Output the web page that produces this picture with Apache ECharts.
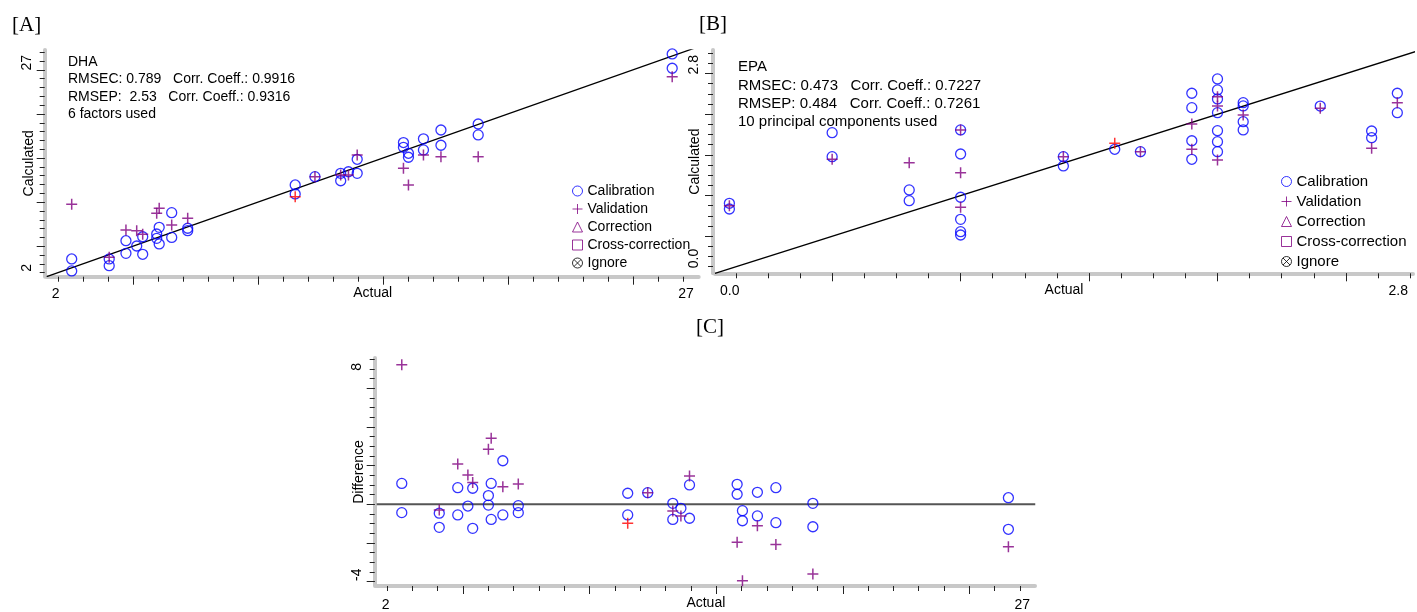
<!DOCTYPE html>
<html>
<head>
<meta charset="utf-8">
<script src="https://cdn.jsdelivr.net/npm/echarts@6/dist/echarts.min.js"></script>
<style>
html,body{margin:0;padding:0;background:#fff;}
#chart{width:1417px;height:612px;}
</style>
</head>
<body>
<div id="chart"></div>
<script>
// ---------- Panel A (DHA) ----------
const calibrationA = [[2.55,3.56],[2.55,2.2],[4.05,3.56],[4.05,2.8],[4.72,5.63],[4.72,4.2],[5.15,5.03],[5.39,6.08],[5.39,4.09],[5.95,6.39],[5.95,5.9],[6.05,7.15],[6.05,5.26],[6.55,8.81],[6.55,6.0],[7.19,7.04],[7.19,6.77],[11.49,11.95],[11.49,10.93],[12.28,12.89],[13.31,13.27],[13.31,12.43],[13.62,13.45],[13.97,14.86],[13.97,13.27],[15.82,16.76],[15.82,16.22],[16.02,15.54],[16.02,15.09],[16.62,17.18],[16.62,15.92],[17.32,18.18],[17.32,16.45],[18.81,18.86],[18.81,17.62],[26.57,26.8],[26.57,25.18]];
const validationA = [[2.55,9.76],[4.05,3.75],[4.72,6.84],[5.15,6.77],[5.39,6.36],[5.95,8.74],[6.05,9.3],[6.55,7.41],[7.19,8.17],[12.28,12.89],[13.31,13.08],[13.62,13.08],[13.97,15.35],[15.82,13.84],[16.02,11.95],[16.62,15.35],[17.32,15.16],[18.81,15.16],[26.57,24.23]];
const validationRedA = [[11.49,10.62]];
const identityA = [[1.55,1.55],[27.7,27.7]];
const textA = ['DHA','RMSEC: 0.789   Corr. Coeff.: 0.9916','RMSEP:  2.53   Corr. Coeff.: 0.9316','6 factors used'];
const xTickLabelsA = ['2','27'];
const yTickLabelsA = ['2','27'];

// ---------- Panel B (EPA) ----------
const calibrationB = [[0.1,0.905],[0.1,0.835],[0.5,1.773],[0.5,1.478],[0.8,1.069],[0.8,0.937],[1.0,1.807],[1.0,1.511],[1.0,0.979],[1.0,0.708],[1.0,0.556],[1.0,0.515],[1.4,1.478],[1.4,1.364],[1.6,1.569],[1.7,1.54],[1.9,2.258],[1.9,2.081],[1.9,1.674],[1.9,1.446],[2.0,2.434],[2.0,2.299],[2.0,2.188],[2.0,2.019],[2.0,1.798],[2.0,1.663],[2.0,1.54],[2.1,2.142],[2.1,2.102],[2.1,1.909],[2.1,1.807],[2.4,2.101],[2.6,1.794],[2.6,1.712],[2.7,2.258],[2.7,2.019]];
const validationB = [[0.1,0.876],[0.5,1.446],[0.8,1.404],[1.0,1.807],[1.0,1.281],[1.0,0.856],[1.4,1.478],[1.7,1.54],[1.9,1.88],[1.9,1.569],[2.0,2.216],[2.0,2.102],[2.0,1.438],[2.1,1.991],[2.4,2.073],[2.6,1.581],[2.7,2.142]];
const validationRedB = [[1.6,1.643]];
const identityB = [[0.044,0.044],[2.8,2.8]];
const textB = ['EPA','RMSEC: 0.473   Corr. Coeff.: 0.7227','RMSEP: 0.484   Corr. Coeff.: 0.7261','10 principal components used'];
const xTickLabelsB = ['0.0','2.8'];
const yTickLabelsB = ['0.0','2.8'];

// ---------- Panel C (Difference) ----------
const calibrationC = [[2.59,1.08],[2.59,-0.43],[4.07,-0.46],[4.07,-1.19],[4.80,0.86],[4.80,-0.55],[5.20,-0.09],[5.39,0.83],[5.39,-1.24],[6.01,0.45],[6.01,-0.04],[6.12,1.08],[6.12,-0.78],[6.58,2.25],[6.58,-0.55],[7.19,-0.07],[7.19,-0.43],[11.51,0.57],[11.51,-0.55],[12.30,0.60],[13.29,0.05],[13.29,-0.78],[13.61,-0.21],[13.95,1.0],[13.95,-0.72],[15.83,1.03],[15.83,0.52],[16.04,-0.33],[16.04,-0.85],[16.63,0.62],[16.63,-0.60],[17.36,0.86],[17.36,-0.95],[18.82,0.05],[18.82,-1.16],[26.54,0.34],[26.54,-1.29]];
const validationC = [[2.59,7.21],[4.07,-0.29],[4.80,2.08],[5.20,1.51],[5.39,1.12],[6.01,2.84],[6.12,3.41],[6.58,0.91],[7.19,1.05],[12.30,0.60],[13.29,-0.35],[13.61,-0.60],[13.95,1.46],[15.83,-1.96],[16.04,-3.95],[16.63,-1.11],[17.36,-2.07],[18.82,-3.60],[26.54,-2.19]];
const validationRedC = [[11.51,-0.98]];
const zeroLineC = [[1.6,0],[27.6,0]];
const xTickLabelsC = ['2','27'];
const yTickLabelsC = ['-4','8'];

const legendNames = ['Calibration','Validation','Correction','Cross-correction','Ignore'];

// ---------- styling ----------
const SANS = '"Liberation Sans", Arial, sans-serif';
const SERIF = '"Liberation Serif", "Times New Roman", serif';
const BLUE = '#0000ff';
const PURPLE = '#800080';
const PLUS = 'path://M0,5L10,5M5,0L5,10';
const IGNORE = 'path://M10,5A5,5,0,1,1,0,5A5,5,0,1,1,10,5ZM1.5,1.5L8.5,8.5M8.5,1.5L1.5,8.5';

function range(a, b, step) { const out = []; for (let v = a; v <= b + 1e-9; v += step) out.push(+v.toFixed(4)); return out; }

function axes(dim, gridIndex, min, max, majors, minors, labels, name, cfg) {
  const isX = dim === 'x';
  const mid = (min + max) / 2;
  const major = {
    type: 'value', gridIndex, min, max,
    position: isX ? 'bottom' : 'left',
    offset: cfg.offset,
    name, nameLocation: 'middle', nameGap: cfg.nameGap,
    nameRotate: isX ? 0 : 90,
    nameMoveOverlap: false,
    nameTextStyle: { fontFamily: SANS, fontSize: cfg.fs, color: '#000' },
    axisLine: { show: true, onZero: false, lineStyle: { color: '#c8c8c8', width: 4 } },
    axisTick: { show: true, customValues: majors, length: 8, lineStyle: { color: '#222', width: 1 } },
    axisLabel: {
      show: true, customValues: [min, max], margin: cfg.margin,
      rotate: isX ? 0 : 90,
      formatter: v => (v < mid ? labels[0] : labels[1]),
      alignMinLabel: 'left', alignMaxLabel: 'right',
      padding: [0, 5, 0, 5],
      hideOverlap: false,
      fontFamily: SANS, fontSize: cfg.fs, color: '#000'
    },
    splitLine: { show: false }
  };
  const minor = {
    type: 'value', gridIndex, min, max,
    position: isX ? 'bottom' : 'left',
    offset: cfg.offset,
    axisLine: { show: false, onZero: false },
    axisTick: { show: true, customValues: minors, length: 5, lineStyle: { color: '#222', width: 1 } },
    axisLabel: { show: false },
    splitLine: { show: false }
  };
  return [major, minor];
}

const xAxes = [], yAxes = [];
// A
xAxes.push(...axes('x', 0, 1.55, 27.63, range(5,25,5), range(2,27,1), xTickLabelsA, 'Actual', {offset:0, margin:10, nameGap:9, fs:14}));
yAxes.push(...axes('y', 0, 1.55, 27.25, range(5,25,5), range(2,27,1), yTickLabelsA, 'Calculated', {offset:2, margin:11, nameGap:9, fs:14}));
// B
xAxes.push(...axes('x', 1, 0.044, 2.761, range(0.5,2.5,0.5), range(0.125,2.75,0.125), xTickLabelsB, 'Actual', {offset:0, margin:11, nameGap:10, fs:14}));
yAxes.push(...axes('y', 1, 0.044, 2.79, range(0.5,2.5,0.5), range(0.125,2.75,0.125), yTickLabelsB, 'Calculated', {offset:2, margin:12, nameGap:11, fs:14}));
// C
xAxes.push(...axes('x', 2, 1.6, 27.59, range(5,25,5), range(2,27,1), xTickLabelsC, 'Actual', {offset:0, margin:12, nameGap:10, fs:14}));
yAxes.push(...axes('y', 2, -4.22, 7.557, range(-4,6,2), range(-4,7.5,0.5), yTickLabelsC, 'Difference', {offset:2, margin:11, nameGap:9, fs:14}));

const circleStyle = { color: 'transparent', borderColor: BLUE, borderWidth: 1.3 };
const plusStyle = { color: 'transparent', borderColor: PURPLE, borderWidth: 1.5 };

function panelSeries(p, cal, val, red, refLine, refColor, refWidth, withLegendNames) {
  const xi = p * 2, yi = p * 2;
  const s = [];
  s.push({ type: 'line', xAxisIndex: xi, yAxisIndex: yi, data: refLine, symbol: 'none', silent: true,
    lineStyle: { color: refColor, width: refWidth }, clip: true, z: 1 });
  s.push({ name: 'Calibration', type: 'scatter', xAxisIndex: xi, yAxisIndex: yi, data: cal,
    symbol: 'circle', symbolSize: 10, itemStyle: circleStyle, z: 3 });
  s.push({ name: 'Validation', type: 'scatter', xAxisIndex: xi, yAxisIndex: yi, data: val,
    symbol: PLUS, symbolSize: 11, itemStyle: plusStyle, z: 4 });
  s.push({ name: 'Validation (red)', type: 'scatter', xAxisIndex: xi, yAxisIndex: yi, data: red,
    symbol: PLUS, symbolSize: 11, itemStyle: { color: 'transparent', borderColor: '#ff0000', borderWidth: 1.5 }, z: 4 });
  if (withLegendNames) {
    s.push({ name: 'Correction', type: 'scatter', xAxisIndex: xi, yAxisIndex: yi, data: [],
      symbol: 'triangle', symbolSize: 10, itemStyle: { color: 'transparent', borderColor: PURPLE, borderWidth: 1.1 } });
    s.push({ name: 'Cross-correction', type: 'scatter', xAxisIndex: xi, yAxisIndex: yi, data: [],
      symbol: 'rect', symbolSize: 10, itemStyle: { color: 'transparent', borderColor: PURPLE, borderWidth: 1.1 } });
    s.push({ name: 'Ignore', type: 'scatter', xAxisIndex: xi, yAxisIndex: yi, data: [],
      symbol: IGNORE, symbolSize: 10, itemStyle: { color: 'transparent', borderColor: '#000', borderWidth: 1 } });
  }
  return s;
}

const series = [
  ...panelSeries(0, calibrationA, validationA, validationRedA, identityA, '#000', 1.3, true),
  ...panelSeries(1, calibrationB, validationB, validationRedB, identityB, '#000', 1.3, false),
  ...panelSeries(2, calibrationC, validationC, validationRedC, zeroLineC, '#555', 2, false)
];

function legend(left, top, gap, fs) {
  return {
    orient: 'vertical', left, top, itemGap: gap, itemWidth: 10, itemHeight: 10,
    selectedMode: false, data: legendNames, padding: 0,
    itemStyle: { borderWidth: 1 },
    textStyle: { fontFamily: SANS, fontSize: fs, color: '#000' }
  };
}

function block(lines, x, y, fs, lh) {
  return { type: 'text', left: x, top: y, silent: true,
    style: { text: lines.join('\n'), font: fs + 'px ' + SANS, fill: '#000', lineHeight: lh } };
}

const option = {
  animation: false,
  backgroundColor: '#fff',
  grid: [
    { left: 46.7, top: 50, width: 652, height: 226.7, outerBoundsMode: 'none', containLabel: false },
    { left: 715, top: 50, width: 698, height: 223.3, outerBoundsMode: 'none', containLabel: false },
    { left: 376.7, top: 358, width: 658.3, height: 228, outerBoundsMode: 'none', containLabel: false }
  ],
  xAxis: xAxes,
  yAxis: yAxes,
  legend: [legend(572, 184, 4, 14), legend(1281, 174, 5, 15)],
  series,
  graphic: [
    { type: 'text', left: 12, top: 15, style: { text: '[A]', font: '21px ' + SERIF, fill: '#000' } },
    { type: 'text', left: 699, top: 14, style: { text: '[B]', font: '21px ' + SERIF, fill: '#000' } },
    { type: 'text', left: 696, top: 317, style: { text: '[C]', font: '21px ' + SERIF, fill: '#000' } },
    block(textA, 68, 53, 14, 17.5),
    block(textB, 738, 58, 15, 18.3)
  ]
};

const chart = echarts.init(document.getElementById('chart'), null, { renderer: 'canvas' });
chart.setOption(option);
</script>
</body>
</html>
